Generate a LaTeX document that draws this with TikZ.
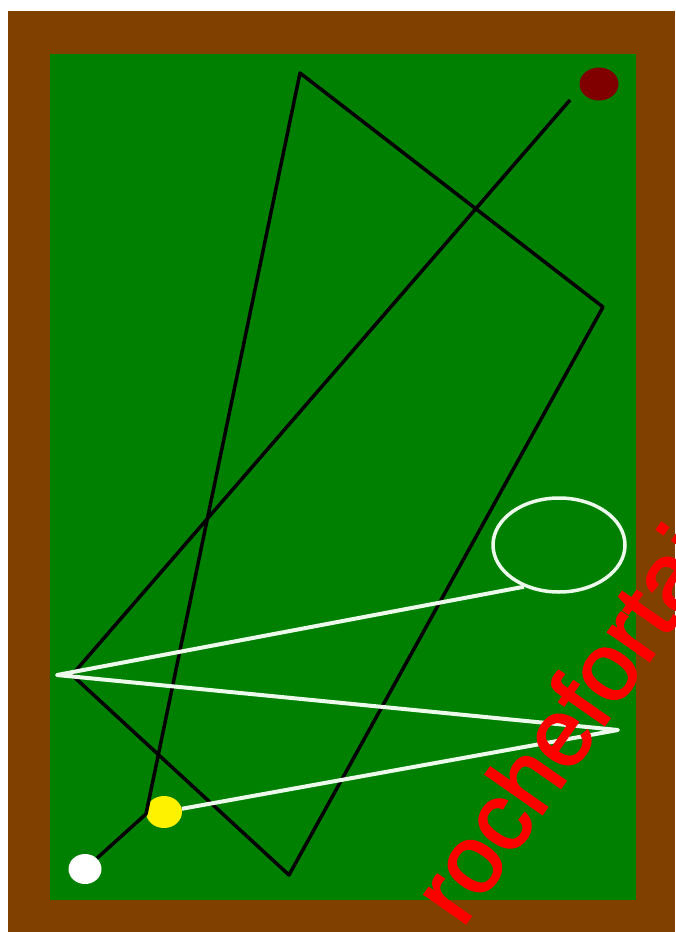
\documentclass[tikz,border=0pt]{standalone}
\usepackage{fontspec}
\usetikzlibrary{shapes.geometric}
\newfontfamily\markfont[FakeBold=2]{Liberation Sans}
\definecolor{cushion}{RGB}{128,64,0}
\definecolor{cloth}{RGB}{0,128,0}
\definecolor{object ball}{RGB}{128,0,0}
\definecolor{chalk}{RGB}{235,250,235}
\tikzset{ball/.style={ellipse, inner sep=0pt, draw=none},
      cue track/.style={draw=black, line width=3.5pt, line join=round},
      second track/.style={draw=chalk, line width=4pt, line join=round}}

\begin{document}
\begin{tikzpicture}[x=1pt,y=-1pt
]
\useasboundingbox (0,0) rectangle (675,932);
    \fill[cushion] (8,11) rectangle (675,932);
    \fill[cloth] (50,54) rectangle (636,900);
    % balls
    \node[ball, fill=object ball, minimum width=39pt, minimum height=33pt] (red)    at (599,84)  {};
    \node[ball, fill=yellow,      minimum width=36pt, minimum height=32pt] (yellow) at (164,812) {};
    \node[ball, fill=white,       minimum width=33pt, minimum height=30pt] (cue)    at (85,869)  {};
    \node[ellipse, draw=chalk, line width=3.5pt, minimum width=132pt, minimum height=94pt] (target) at (559,545) {};
    % bounce points
    \coordinate (k1) at (146,814);
    \coordinate (k2) at (300,73);
    \coordinate (k3) at (603,307);
    \coordinate (k4) at (289,875);
    \coordinate (k5) at (72,675);
    \coordinate (k6) at (570,100);
    \coordinate (w1) at (618,730);
    \coordinate (w2) at (57,675);
    \draw[cue track] (cue) -- (k1) -- (k2) -- (k3) -- (k4) -- (k5) -- (k6);
    \draw[second track] (yellow) -- (w1) -- (w2) -- (target.230);
    \node[rotate=55, anchor=base west, text=red, inner sep=0pt,
      font=\markfont\fontsize{96}{96}\selectfont] (mark) at (462,929) {rochefortais};
\end{tikzpicture}
\end{document}
